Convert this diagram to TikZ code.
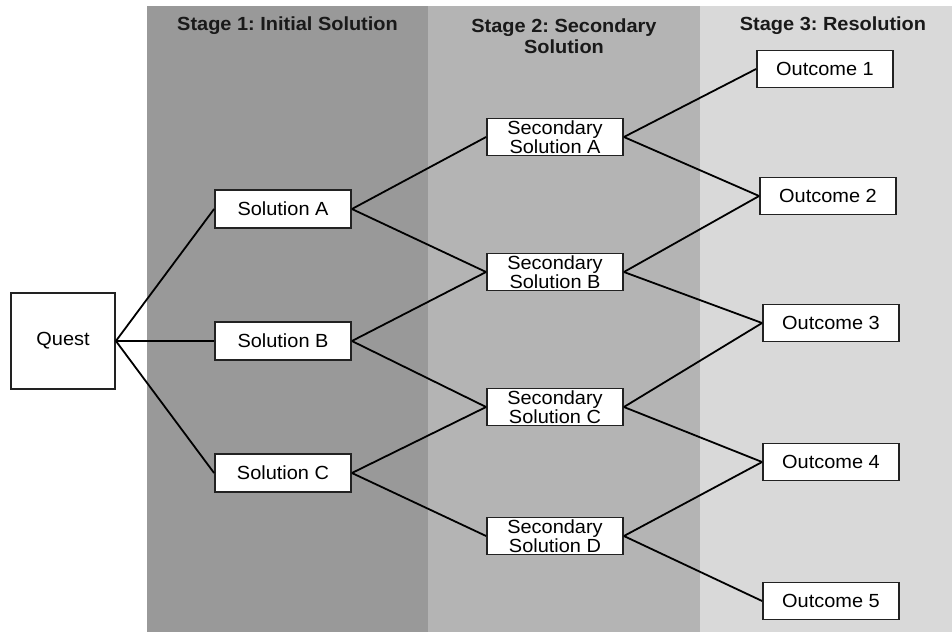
\documentclass[tikz,border=0pt]{standalone}
\usepackage{fontspec}
\setmainfont{Liberation Sans}[FakeStretch=1.05]
\frenchspacing
\definecolor{stageone}{HTML}{999999}
\definecolor{stagetwo}{HTML}{B4B4B4}
\definecolor{stagethree}{HTML}{D9D9D9}
\definecolor{boxline}{HTML}{222222}
\tikzset{
  box/.style={draw=boxline, line width=1.8pt, fill=white, inner sep=0pt,
    minimum width=136pt, minimum height=37pt, align=center,
    font=\fontsize{19}{19.5}\selectfont},
  questbox/.style={box, minimum width=104pt, minimum height=96pt},
  header/.style={align=center, font=\fontsize{19}{21}\selectfont\bfseries, text=black!90},
  link/.style={line width=1.8pt, black}
}
\begin{document}
\begin{tikzpicture}[x=1pt,y=-1pt]
\useasboundingbox (0,0) rectangle (952,632);
\fill[white] (0,0) rectangle (952,632);
% stage bands
\fill[stageone] (147,6) rectangle (428,632);
\fill[stagetwo] (428,6) rectangle (700,632);
\fill[stagethree] (700,6) rectangle (952,632);
% headers
\node[header] (h1) at (287.5,26) {Stage 1: Initial Solution};
\node[header] (h2) at (564,36.5) {Stage 2: Secondary\\Solution};
\node[header] (h3) at (833,26) {Stage 3: Resolution};
% nodes
\node[questbox] (q) at (63,341) {Quest};
\node[box, minimum height=38pt] (sa) at (283,209) {Solution A};
\node[box, minimum height=38pt] (sb) at (283,341) {Solution B};
\node[box, minimum height=38pt] (sc) at (283,473) {Solution C};
\node[box] (ta) at (555,137) {Secondary\\Solution A};
\node[box] (tb) at (555,272) {Secondary\\Solution B};
\node[box] (tc) at (555,407) {Secondary\\Solution C};
\node[box] (td) at (555,536) {Secondary\\Solution D};
\node[box] (o1) at (825,69) {Outcome 1};
\node[box] (o2) at (828,196) {Outcome 2};
\node[box] (o3) at (831,323) {Outcome 3};
\node[box] (o4) at (831,462) {Outcome 4};
\node[box] (o5) at (831,601) {Outcome 5};
% connectors
\draw[link] (q.east) -- (sa.west);
\draw[link] (q.east) -- (sb.west);
\draw[link] (q.east) -- (sc.west);
\draw[link] (sa.east) -- (ta.west);
\draw[link] (sa.east) -- (tb.west);
\draw[link] (sb.east) -- (tb.west);
\draw[link] (sb.east) -- (tc.west);
\draw[link] (sc.east) -- (tc.west);
\draw[link] (sc.east) -- (td.west);
\draw[link] (ta.east) -- (o1.west);
\draw[link] (ta.east) -- (o2.west);
\draw[link] (tb.east) -- (o2.west);
\draw[link] (tb.east) -- (o3.west);
\draw[link] (tc.east) -- (o3.west);
\draw[link] (tc.east) -- (o4.west);
\draw[link] (td.east) -- (o4.west);
\draw[link] (td.east) -- (o5.west);
\end{tikzpicture}
\end{document}
